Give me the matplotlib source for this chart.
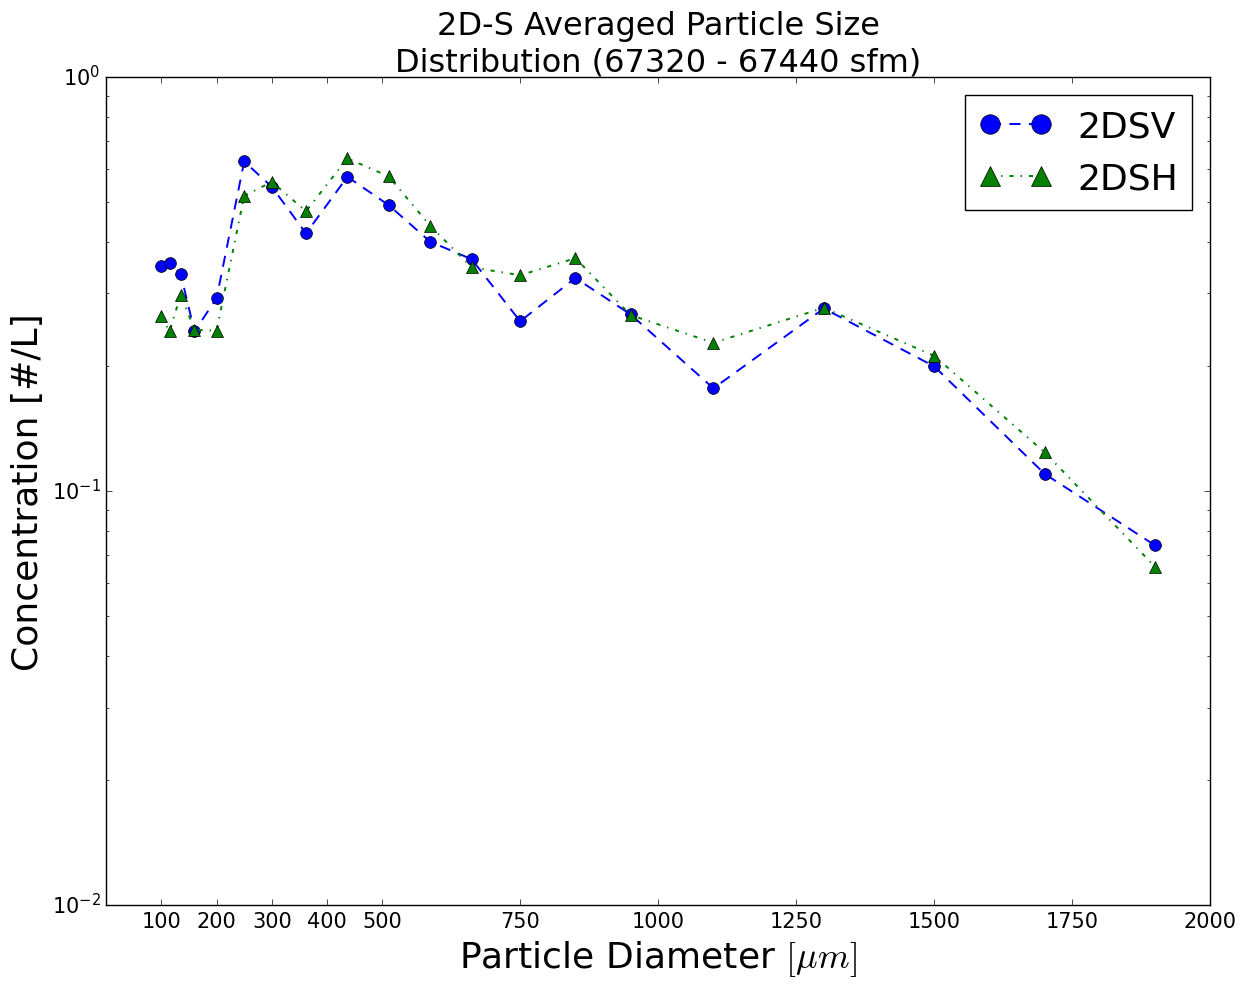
import matplotlib
matplotlib.use("Agg")
import matplotlib.pyplot as plt

# bin centres [um]
diameter = [100, 115, 135, 160, 200, 250, 300, 362, 437, 512,
             587, 662, 750, 850, 950, 1100, 1300, 1500, 1700, 1900]

# averaged concentrations [#/L]
conc_2dsv = [0.350, 0.356, 0.334, 0.243, 0.292, 0.625, 0.543, 0.419, 0.574, 0.490,
             0.400, 0.363, 0.257, 0.327, 0.267, 0.177, 0.276, 0.200, 0.110, 0.0739]
conc_2dsh = [0.264, 0.243, 0.298, 0.245, 0.244, 0.516, 0.558, 0.474, 0.636, 0.575,
             0.437, 0.347, 0.332, 0.365, 0.266, 0.228, 0.277, 0.212, 0.124, 0.0656]

xticks = [100, 200, 300, 400, 500, 750, 1000, 1250, 1500, 1750, 2000]

plt.style.use("classic")

fig = plt.figure(figsize=(12.49, 9.87), dpi=100, facecolor="white")
ax = fig.add_subplot(111)
fig.subplots_adjust(left=0.085, right=0.969, top=0.921, bottom=0.082)

ax.plot(diameter, conc_2dsv, "bo--", markersize=8.5, markeredgewidth=0.5,
        linewidth=1.4, dashes=(8, 6), label="2DSV")
ax.plot(diameter, conc_2dsh, "g^-.", markersize=8.5, markeredgewidth=0.5,
        linewidth=1.4, label="2DSH")

ax.set_yscale("log")
ax.set_xlim(0, 2000)
ax.set_ylim(0.01, 1)
ax.set_xticks(xticks)
ax.set_xticklabels([str(t) for t in xticks])
ax.tick_params(axis="both", which="major", labelsize=15)

ax.set_title("2D-S Averaged Particle Size\nDistribution (67320 - 67440 sfm)", fontsize=23)
ax.set_xlabel(r"Particle Diameter $[\mu m]$", fontsize=26)
ax.set_ylabel("Concentration [#/L]", fontsize=26)

ax.legend(loc="upper right", numpoints=2, markerscale=1.65, fontsize=26,
          handlelength=2.0, handletextpad=0.7, borderaxespad=0.5)

fig.savefig("out.png", dpi=100, facecolor="white")
